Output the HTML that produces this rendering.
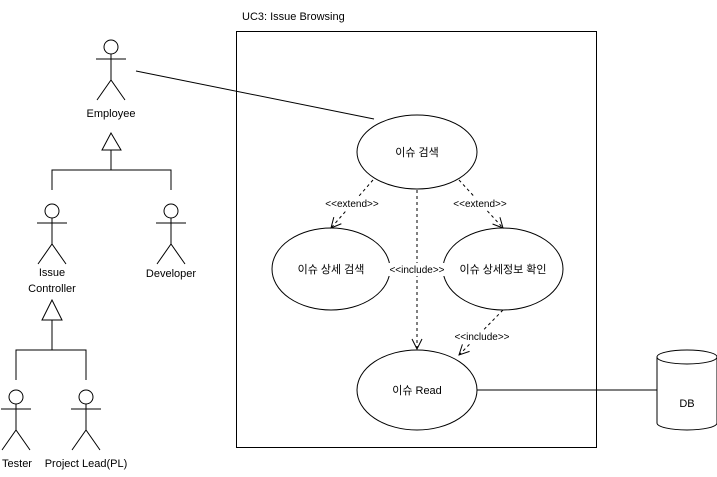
<!DOCTYPE html>
<html><head><meta charset="utf-8"><style>
body{margin:0;background:#fff;}
text{font-family:"Liberation Sans","Noto Sans CJK KR",sans-serif;font-size:11px;fill:#000;}
</style></head><body>
<svg width="717" height="472" viewBox="0 0 717 472" xmlns="http://www.w3.org/2000/svg">
<defs>
<marker id="a" viewBox="0 0 12 12" refX="11" refY="6" markerWidth="12" markerHeight="12" orient="auto" markerUnits="userSpaceOnUse">
<path d="M1,1 L11,6 L1,11" fill="none" stroke="#000" stroke-width="1"/></marker>
</defs>
<g stroke="#000" fill="none" stroke-width="1">
<rect x="236.5" y="31.5" width="360" height="416"/>
<!-- actors -->
<g id="act">
</g>
<line x1="136" y1="71" x2="374" y2="119"/>
<line x1="477" y1="390" x2="657" y2="390"/>
<!-- generalization 1 -->
<path d="M111,133 L102,150 L121,150 Z"/>
<path d="M111,150 V170 M52,190 V170 H171 V190"/>
<path d="M52,300 L42,320 L62,320 Z"/>
<path d="M52,320 V350 M16,380 V350 H86 V380"/>
<!-- ellipses -->
<ellipse cx="417" cy="152" rx="60" ry="37" fill="#fff"/>
<ellipse cx="331" cy="269" rx="59" ry="41" fill="#fff"/>
<ellipse cx="503" cy="269" rx="60" ry="41" fill="#fff"/>
<ellipse cx="417" cy="390" rx="60" ry="40" fill="#fff"/>
<!-- DB -->
<path d="M657,357 V423 A30,7 0 0 0 717,423 V357" fill="#fff"/>
<ellipse cx="687" cy="357" rx="30" ry="7" fill="#fff"/>
<!-- dashed -->
<g stroke-dasharray="3,3">
<line x1="373" y1="180" x2="331" y2="228" marker-end="url(#a)"/>
<line x1="459" y1="180" x2="503" y2="228" marker-end="url(#a)"/>
<line x1="417" y1="190" x2="417" y2="349" marker-end="url(#a)"/>
<line x1="503" y1="310" x2="459" y2="355" marker-end="url(#a)"/>
</g>
</g>
<g stroke="#000" fill="#fff" stroke-width="1">
<g transform="translate(111,0)"><circle cx="0" cy="47" r="7"/><path d="M0,54 V80 M-15,59 H15 M-14,100 L0,80 L14,100" fill="none"/></g>
<g transform="translate(52,164)"><circle cx="0" cy="47" r="7"/><path d="M0,54 V80 M-15,59 H15 M-14,100 L0,80 L14,100" fill="none"/></g>
<g transform="translate(171,164)"><circle cx="0" cy="47" r="7"/><path d="M0,54 V80 M-15,59 H15 M-14,100 L0,80 L14,100" fill="none"/></g>
<g transform="translate(16,350)"><circle cx="0" cy="47" r="7"/><path d="M0,54 V80 M-15,59 H15 M-14,100 L0,80 L14,100" fill="none"/></g>
<g transform="translate(86,350)"><circle cx="0" cy="47" r="7"/><path d="M0,54 V80 M-15,59 H15 M-14,100 L0,80 L14,100" fill="none"/></g>
</g>
<g fill="#fff">
<rect x="320" y="197" width="66" height="13"/>
<rect x="448" y="197" width="66" height="13"/>
<rect x="387" y="263" width="60" height="13"/>
<rect x="450" y="330" width="64" height="13"/>
</g>
<text x="242" y="20">UC3: Issue Browsing</text>
<g text-anchor="middle">
<text x="111" y="117">Employee</text>
<text x="52" y="276">Issue</text>
<text x="52" y="292">Controller</text>
<text x="171" y="277">Developer</text>
<text x="17" y="467">Tester</text>
<text x="86" y="467">Project Lead(PL)</text>
<text x="417" y="156">이슈 검색</text>
<text x="331" y="273">이슈 상세 검색</text>
<text x="503" y="273">이슈 상세정보 확인</text>
<text x="417" y="394">이슈 Read</text>
<text x="687" y="407">DB</text>
<g style="font-size:10px">
<text x="352" y="207" style="font-size:10px">&lt;&lt;extend&gt;&gt;</text>
<text x="480" y="207" style="font-size:10px">&lt;&lt;extend&gt;&gt;</text>
<text x="417" y="273" style="font-size:10px">&lt;&lt;include&gt;&gt;</text>
<text x="482" y="340" style="font-size:10px">&lt;&lt;include&gt;&gt;</text>
</g>
</g>
</svg>
</body></html>
